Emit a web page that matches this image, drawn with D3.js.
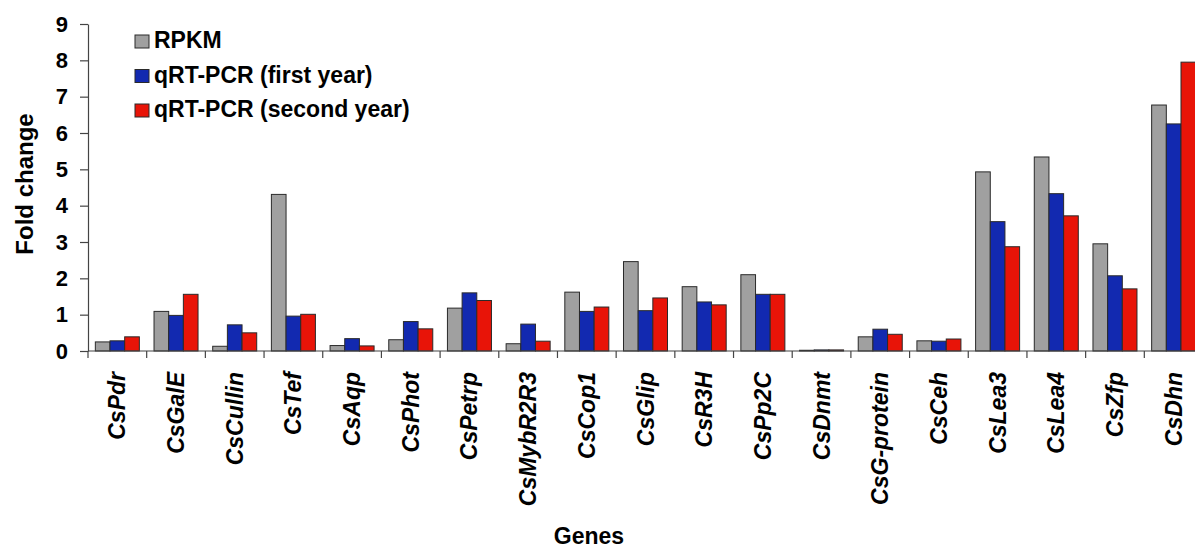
<!DOCTYPE html>
<html><head><meta charset="utf-8">
<script src="https://cdn.jsdelivr.net/npm/d3@7"></script>
<style>body{margin:0;background:#fff;} svg{display:block;font-family:"Liberation Sans",Arial,sans-serif;}</style>
</head><body>
<svg id="c" width="1195" height="551"></svg>
<script>
const genes = ["CsPdr","CsGalE","CsCullin","CsTef","CsAqp","CsPhot","CsPetrp","CsMybR2R3","CsCop1","CsGlip","CsR3H","CsPp2C","CsDnmt","CsG-protein","CsCeh","CsLea3","CsLea4","CsZfp","CsDhn"];
const rpkm =      [0.25,1.09,0.13,4.31,0.15,0.31,1.18,0.20,1.62,2.46,1.77,2.10,0.02,0.39,0.28,4.93,5.34,2.95,6.77];
const qpcrFirst = [0.28,0.98,0.72,0.96,0.34,0.81,1.60,0.74,1.09,1.11,1.35,1.56,0.03,0.60,0.27,3.56,4.33,2.07,6.25];
const qpcrSecond= [0.39,1.56,0.50,1.01,0.14,0.61,1.39,0.27,1.21,1.46,1.27,1.56,0.03,0.46,0.33,2.87,3.72,1.71,7.95];
const seriesNames = ["RPKM","qRT-PCR (first year)","qRT-PCR (second year)"];
const seriesColors = ["#a0a0a0","#1229b0","#e81408"];
const yTicks = [0,1,2,3,4,5,6,7,8,9];

const series = [rpkm, qpcrFirst, qpcrSecond];
const svg = d3.select("#c");
const x0 = 88, x1 = 1203, yTop = 24, yBot = 351;

const x = d3.scaleBand().domain(genes).range([x0, x1]).paddingInner(0).paddingOuter(0);
const y = d3.scaleLinear().domain([0, 9]).range([yBot, yTop]);
const bw = x.bandwidth();

// bars
const g = svg.append("g");
genes.forEach((gene, i) => {
  series.forEach((s, k) => {
    const bx = x(gene) + bw*0.125 + k * bw*0.25;
    g.append("rect")
      .attr("x", bx).attr("y", y(s[i]))
      .attr("width", bw*0.25).attr("height", yBot - y(s[i]))
      .attr("fill", seriesColors[k]).attr("stroke", "#2a2a2a").attr("stroke-width", 1);
  });
});

// y axis
const yAxis = d3.axisLeft(y).tickValues(yTicks).tickSize(8).tickPadding(12).tickSizeOuter(0);
const ya = svg.append("g").attr("transform", `translate(${x0},0)`).call(yAxis);
ya.selectAll("path,line").attr("stroke", "#444").attr("stroke-width", 1.2);
ya.selectAll("text").attr("font-size", 22).attr("font-weight", "bold").attr("fill", "#000")
  .attr("font-family", "Liberation Sans, Arial, sans-serif");

// x axis line + ticks at band boundaries
svg.append("line").attr("x1", x0).attr("x2", 1195).attr("y1", yBot).attr("y2", yBot)
  .attr("stroke", "#444").attr("stroke-width", 1.2);
genes.forEach(gn => {
  svg.append("line").attr("x1", x(gn)).attr("x2", x(gn)).attr("y1", yBot).attr("y2", yBot + 7)
    .attr("stroke", "#444").attr("stroke-width", 1.2);
});
// gene labels
genes.forEach(gn => {
  const cx = x(gn) + bw/2;
  svg.append("text")
    .attr("transform", `translate(${cx + 8},372) rotate(-90)`)
    .attr("text-anchor", "end")
    .attr("font-size", 23).attr("font-weight", "bold").attr("font-style", "italic")
    .text(gn);
});

// axis titles
svg.append("text").attr("transform", "translate(33,184) rotate(-90)")
  .attr("text-anchor", "middle").attr("font-size", 24).attr("font-weight", "bold").text("Fold change");
svg.append("text").attr("x", 589).attr("y", 544)
  .attr("text-anchor", "middle").attr("font-size", 23).attr("font-weight", "bold").text("Genes");

// legend
seriesNames.forEach((nm, k) => {
  const base = 48 + k * 34.5;
  svg.append("rect").attr("x", 135).attr("y", base - 13).attr("width", 14).attr("height", 13)
    .attr("fill", seriesColors[k]).attr("stroke", "#2a2a2a").attr("stroke-width", 1);
  svg.append("text").attr("x", 154).attr("y", base).attr("font-size", 23).attr("font-weight", "bold").text(nm);
});
</script>
</body></html>
